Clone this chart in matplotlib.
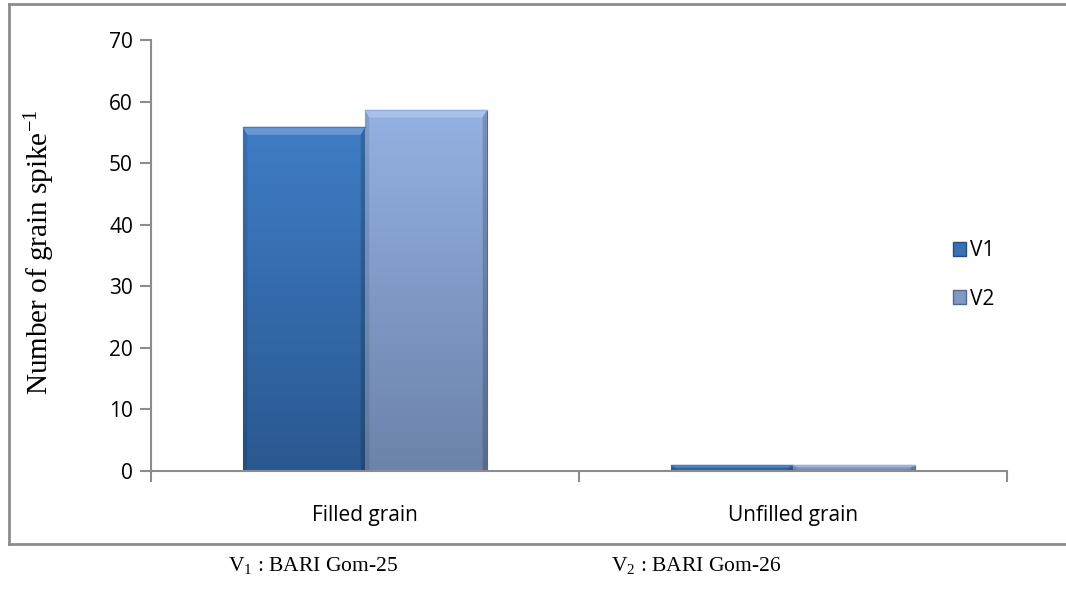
import numpy as np
import matplotlib
matplotlib.use("Agg")
import matplotlib.pyplot as plt
from matplotlib.patches import Patch, Polygon
from matplotlib.lines import Line2D

plt.rcParams['mathtext.fontset'] = 'custom'
plt.rcParams['mathtext.rm'] = 'Liberation Serif'
plt.rcParams['mathtext.it'] = 'Liberation Serif:italic'

# data
categories = ["Filled grain", "Unfilled grain"]
series = ["V1", "V2"]
v1 = [55.8, 0.9]
v2 = [58.6, 0.9]
yticks = [0, 10, 20, 30, 40, 50, 60, 70]

# colours (top, bottom, edge) for each series
cols = {
    "V1": ("#3f7dc6", "#2a5890", "#264d7e"),
    "V2": ("#93b1e1", "#6c83ab", "#56698c"),
}

fig = plt.figure(figsize=(10.66, 5.94), dpi=100)
ax = fig.add_axes([151/1066, 1-470.7/594, (1007-151)/1066, (470.7-40)/594])

x = np.arange(len(categories))
w = 0.285
grey = "#8c8c8c"


def gradient_bar(xc, h, name):
    top, bot, edge = cols[name]
    b = ax.bar(xc, h, w, color=top, edgecolor=edge, linewidth=0.8, zorder=2)[0]
    c1 = np.array(matplotlib.colors.to_rgb(top))
    c2 = np.array(matplotlib.colors.to_rgb(bot))
    t = np.linspace(0, 1, 100)[:, None]
    img = (c1 * (1 - t) + c2 * t)[:, None, :]
    im = ax.imshow(img, extent=(xc - w/2, xc + w/2, 0, h), aspect='auto',
                   origin='upper', zorder=2.1)
    im.set_clip_path(b)
    # bevel: light top face and darker sides
    bx = 0.01
    by = min(1.2, h * 0.35)
    x0, x1 = xc - w/2, xc + w/2
    ax.add_patch(Polygon([[x0, h], [x1, h], [x1 - bx, h - by], [x0 + bx, h - by]],
                         closed=True, facecolor="white", alpha=0.22, lw=0, zorder=2.2))
    ax.add_patch(Polygon([[x0, 0], [x0, h], [x0 + bx, h - by], [x0 + bx, 0]],
                         closed=True, facecolor="black", alpha=0.1, lw=0, zorder=2.2))
    ax.add_patch(Polygon([[x1, 0], [x1, h], [x1 - bx, h - by], [x1 - bx, 0]],
                         closed=True, facecolor="black", alpha=0.18, lw=0, zorder=2.2))
    ax.plot([x0, x1], [h, h], color=top, lw=1.0, zorder=2.3)


for i in range(len(categories)):
    gradient_bar(x[i] - w/2, v1[i], "V1")
    gradient_bar(x[i] + w/2, v2[i], "V2")

ax.set_xlim(-0.5, 1.5)
ax.set_ylim(0, 70)
ax.set_yticks(yticks)
ax.set_xticks([-0.5, 0.5, 1.5])
ax.set_xticklabels([])
ax.set_xticks(x, minor=True)
ax.set_xticklabels(categories, minor=True)
ax.tick_params(axis='x', which='minor', length=0, pad=25)
ax.tick_params(axis='x', which='major', length=8, color=grey, width=1.5)
ax.tick_params(axis='y', length=8, color=grey, width=1.5, pad=5)
for lab in ax.get_yticklabels() + ax.get_xticklabels(minor=True):
    lab.set_fontfamily("Open Sans")
    lab.set_fontsize(15)
for s in ["top", "right"]:
    ax.spines[s].set_visible(False)
for s in ["left", "bottom"]:
    ax.spines[s].set_color(grey)
    ax.spines[s].set_linewidth(1.5)

fig.text(40/1066, 1-252/594, r"Number of grain spike$^{\mathrm{-1}}$", fontfamily="Liberation Serif",
         fontsize=21, rotation=90, ha="center", va="center")

handles = [Patch(facecolor="#3670b5", edgecolor=cols["V1"][2]),
           Patch(facecolor="#8098c4", edgecolor=cols["V2"][2])]
leg = fig.legend(handles, series, loc="center left", bbox_to_anchor=(934/1066, 1-275/594),
                 frameon=False, prop={"family": "Open Sans", "size": 15},
                 handlelength=0.65, handleheight=0.65, handletextpad=0.2,
                 labelspacing=1.3)

# outer frame of the chart area
fig.add_artist(Line2D([9/1066, 1.0], [1-4/594, 1-4/594], color=grey, lw=2))
fig.add_artist(Line2D([9/1066, 9/1066], [1-4/594, 1-544/594], color=grey, lw=2))
fig.add_artist(Line2D([9/1066, 1.0], [1-544/594, 1-544/594], color=grey, lw=2))

# variety key under the chart
fig.text(228/1066, 1-566/594, r"V$_{\mathrm{1}}$ : BARI Gom-25", fontfamily="Liberation Serif",
         fontsize=15.5, va="center", ha="left")
fig.text(611/1066, 1-566/594, r"V$_{\mathrm{2}}$ : BARI Gom-26", fontfamily="Liberation Serif",
         fontsize=15.5, va="center", ha="left")

fig.savefig("out.png", dpi=100)
